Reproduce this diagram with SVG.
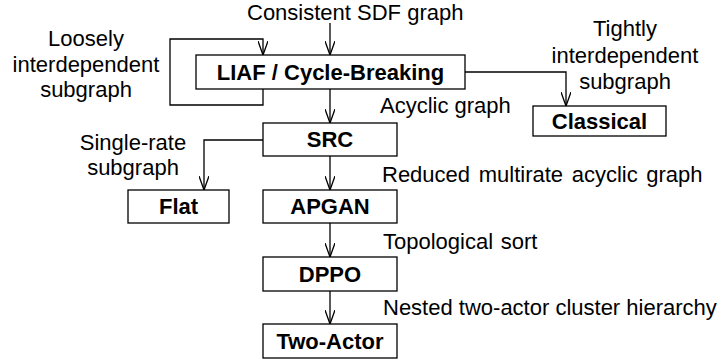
<svg xmlns="http://www.w3.org/2000/svg" width="723" height="362" viewBox="0 0 723 362">
<defs>
<style>
.box{fill:#fff;stroke:#000;stroke-width:1.3}
.bl{font-family:"Liberation Sans",Arial,sans-serif;font-size:22px;font-weight:bold;fill:#000;text-anchor:middle}
.lb{font-family:"Liberation Sans",Arial,sans-serif;font-size:22px;fill:#000}
.c{text-anchor:middle}
.edge{fill:none;stroke:#000;stroke-width:1.3}
</style>
<marker id="arr" viewBox="0 0 14 10" refX="14" refY="5" markerWidth="14" markerHeight="10" markerUnits="userSpaceOnUse" orient="auto">
<path d="M0,0 L14,5 L0,10" fill="none" stroke="#000" stroke-width="1.3"/>
</marker>
</defs>
<rect width="723" height="362" fill="#fff"/>
<g id="connectors">
<path class="edge" d="M330,23 V55" marker-end="url(#arr)"/>
<path class="edge" d="M263,89 V105 H170 V39 H263 V55" marker-end="url(#arr)"/>
<path class="edge" d="M330,89 V123" marker-end="url(#arr)"/>
<path class="edge" d="M465,72 H566 V106" marker-end="url(#arr)"/>
<path class="edge" d="M263,140 H204 V190" marker-end="url(#arr)"/>
<path class="edge" d="M330,156 V190" marker-end="url(#arr)"/>
<path class="edge" d="M330,223 V257" marker-end="url(#arr)"/>
<path class="edge" d="M330,291 V324" marker-end="url(#arr)"/>
</g>
<g id="labels">
<text class="lb" x="247" y="20">Consistent SDF graph</text>
<text class="lb c" x="86"><tspan x="86" y="46">Loosely</tspan><tspan x="86" y="72">interdependent</tspan><tspan x="86" y="97">subgraph</tspan></text>
<text class="lb c" x="625"><tspan x="625" y="36">Tightly</tspan><tspan x="625" y="63">interdependent</tspan><tspan x="625" y="89">subgraph</tspan></text>
<text class="lb" x="380" y="113">Acyclic graph</text>
<text class="lb c" x="133"><tspan x="133" y="150">Single-rate</tspan><tspan x="133" y="175">subgraph</tspan></text>
<text class="lb" x="382" y="182" word-spacing="2.5">Reduced multirate acyclic graph</text>
<text class="lb" x="383" y="249" word-spacing="1.5">Topological sort</text>
<text class="lb" x="383" y="315">Nested two-actor cluster hierarchy</text>
</g>
<g id="liaf"><rect class="box" x="196" y="55" width="269" height="34"/><text class="bl" x="330.5" y="80">LIAF / Cycle-Breaking</text></g>
<g id="src"><rect class="box" x="263" y="123" width="134" height="33"/><text class="bl" x="330" y="147">SRC</text></g>
<g id="classical"><rect class="box" x="533" y="106" width="133" height="30"/><text class="bl" x="599.5" y="129">Classical</text></g>
<g id="flat"><rect class="box" x="128" y="190" width="101" height="33"/><text class="bl" x="178.5" y="214">Flat</text></g>
<g id="apgan"><rect class="box" x="263" y="190" width="134" height="33"/><text class="bl" x="330" y="214">APGAN</text></g>
<g id="dppo"><rect class="box" x="263" y="257" width="134" height="34"/><text class="bl" x="330" y="282">DPPO</text></g>
<g id="twoactor"><rect class="box" x="263" y="324" width="134" height="34"/><text class="bl" x="330" y="349">Two-Actor</text></g>
</svg>
